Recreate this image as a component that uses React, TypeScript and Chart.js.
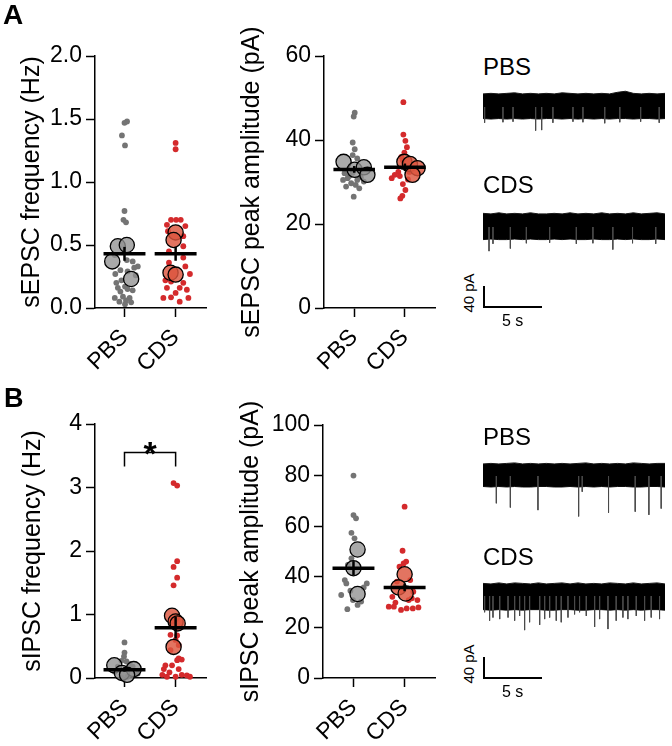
import React, { useEffect, useRef } from 'react';
import { Chart, registerables } from 'chart.js';
Chart.register(...registerables);

const FONT = "'Liberation Sans', Arial, Helvetica, sans-serif";
const groups = ['PBS', 'CDS'];

// ---------- A, left: sEPSC frequency (Hz) ----------
const aFreqPbs = [1.48, 1.47, 1.37, 1.29, 0.77, 0.70, 0.68, 0.42, 0.38, 0.37, 0.33, 0.32, 0.30, 0.29, 0.27, 0.26, 0.22, 0.20, 0.17, 0.16, 0.15, 0.14, 0.13, 0.09, 0.08, 0.08, 0.06, 0.05, 0.045, 0.03];
const aFreqPbsJit = [0.05, 0.0, -0.05, 0.01, 0.0, -0.02, 0.03, -0.19, 0.045, 0.16, 0.26, 0.19, -0.08, 0.06, -0.18, 0.22, -0.06, -0.16, 0.01, -0.13, 0.06, 0.16, -0.08, -0.03, -0.19, 0.10, 0.03, -0.10, 0.13, 0.01];
const aFreqPbsAnimals = [0.49, 0.50, 0.37, 0.23];
const aFreqPbsAnimalsJit = [-0.13, 0.045, -0.24, 0.13];
const aFreqCds = [1.31, 1.26, 0.70, 0.70, 0.70, 0.66, 0.65, 0.61, 0.57, 0.49, 0.45, 0.40, 0.36, 0.33, 0.27, 0.22, 0.21, 0.20, 0.16, 0.16, 0.145, 0.12, 0.08, 0.085, 0.08, 0.05];
const aFreqCdsJit = [0, 0, -0.09, 0.01, 0.10, -0.17, 0.19, -0.15, 0.15, 0.15, -0.13, 0.15, -0.13, 0.19, 0.28, -0.20, -0.09, 0.15, 0.08, -0.17, 0.22, 0, -0.24, -0.09, 0.25, 0.08];
const aFreqCdsAnimals = [0.60, 0.54, 0.28, 0.265];
const aFreqCdsAnimalsJit = [0, -0.04, -0.10, 0.0];
const aFreqMean = [0.43, 0.43];
const aFreqSem = [0.055, 0.055];

// ---------- A, middle: sEPSC peak amplitude (pA) ----------
const aAmpPbs = [46.5, 45.6, 39.4, 37.8, 36.4, 35.6, 32.2, 32.1, 31.4, 31.1, 30.9, 30.5, 30.5, 30.1, 29.7, 29.3, 28.9, 28.5, 26.5];
const aAmpPbsJit = [0.01, -0.01, -0.03, 0.01, -0.03, 0.06, -0.03, -0.19, -0.10, 0.13, -0.13, 0.06, -0.22, 0.19, -0.06, 0.03, -0.16, 0.10, -0.01];
const aAmpPbsAnimals = [34.8, 32.9, 33.5, 31.7];
const aAmpPbsAnimalsJit = [-0.21, 0.01, 0.19, 0.26];
const aAmpCds = [49.0, 41.3, 39.8, 38.3, 37.0, 36.0, 35.2, 32.4, 32.4, 31.7, 31.4, 30.9, 30.6, 29.5, 28.1, 26.7, 26.1];
const aAmpCdsJit = [-0.03, -0.03, 0.01, 0.04, -0.01, -0.07, -0.04, -0.13, 0.09, -0.20, -0.10, -0.26, 0.06, -0.04, 0.01, -0.05, -0.09];
const aAmpCdsAnimals = [34.8, 34.3, 33.3, 31.7];
const aAmpCdsAnimalsJit = [-0.01, 0.10, 0.25, 0.15];
const aAmpMean = [33.0, 33.5];
const aAmpSem = [0.8, 0.9];

// ---------- B, left: sIPSC frequency (Hz) ----------
const bFreqPbs = [0.56, 0.40, 0.34, 0.27, 0.26, 0.22, 0.18, 0.18, 0.10, 0.07, 0.02, 0.01];
const bFreqPbsJit = [0, 0, -0.01, -0.06, 0.04, 0.10, -0.13, 0.16, -0.19, 0.26, 0.06, -0.06];
const bFreqPbsAnimals = [0.20, 0.08, 0.14, 0.05];
const bFreqPbsAnimalsJit = [-0.20, -0.05, 0.18, 0.05];
const bFreqCds = [3.07, 3.03, 1.84, 1.75, 1.58, 1.46, 0.68, 0.67, 0.60, 0.52, 0.44, 0.31, 0.29, 0.28, 0.20, 0.20, 0.14, 0.14, 0.09, 0.05, 0.02, 0.05, 0.04, 0.02, 0.02];
const bFreqCdsJit = [-0.04, 0.03, 0.03, -0.04, 0.03, -0.04, -0.10, 0.03, 0, 0.06, -0.10, 0.06, 0.12, 0.03, -0.20, -0.07, -0.23, 0.06, -0.12, -0.26, 0, 0.12, 0.22, 0.28, -0.17];
const bFreqCdsAnimals = [0.98, 0.89, 0.86, 0.49];
const bFreqCdsAnimalsJit = [-0.07, 0.0, 0.04, -0.04];
const bFreqMean = [0.13, 0.79];
const bFreqSem = [0.03, 0.17];
const bFreqBracket = [3.33, 3.55];

// ---------- B, middle: sIPSC peak amplitude (pA) ----------
const bAmpPbs = [80.0, 64.4, 63.1, 57.4, 55.2, 47.3, 44.7, 38.7, 37.4, 37.4, 35.8, 34.5, 32.8, 30.8, 30.2, 28.9, 27.2];
const bAmpPbsJit = [0, 0, 0.05, -0.04, 0.02, -0.04, -0.11, -0.17, -0.14, 0.26, 0.20, -0.06, -0.24, -0.01, 0.15, 0.08, -0.12];
const bAmpPbsAnimals = [50.8, 43.4, 33.2];
const bAmpPbsAnimalsJit = [0.08, 0, 0.08];
const bAmpCds = [67.7, 50.3, 46.0, 45.3, 44.0, 38.7, 38.1, 34.1, 32.1, 31.5, 30.8, 30.8, 29.8, 28.2, 28.2, 27.9, 27.5, 27.5, 26.9];
const bAmpCdsJit = [0, -0.04, 0.03, -0.02, -0.10, 0.11, -0.15, 0.17, -0.24, 0.14, 0.25, 0.08, -0.18, -0.21, -0.31, 0.27, 0.04, 0.16, -0.07];
const bAmpCdsAnimals = [41.0, 35.8, 33.4];
const bAmpCdsAnimalsJit = [0, -0.12, 0.02];
const bAmpMean = [43.4, 35.8];
const bAmpSem = [2.8, 1.5];

// ---------- Example traces (pA relative to baseline, time in s) ----------
const TRACE_DUR = 15.7;
const SCALE_PA = 40;
const SCALE_S = 5;
const aPbsUpper = [25, 26, 25, 26, 27, 25, 26, 25, 26, 25, 27, 26, 25, 26, 25, 26, 25, 28, 30, 26, 25, 26, 25, 26];
const aPbsLower = [-22, -23, -22, -23, -22, -23, -22, -23, -22, -22, -23, -22, -23, -22, -23, -22, -23, -22, -22, -23, -22, -22, -23, -22];
const aPbsSpikeT = [0.14, 1.72, 2.59, 4.54, 5.06, 6.03, 7.76, 8.62, 10.5, 11.8, 13.6, 15.2];
const aPbsSpikeA = [-30, -29, -28, -45, -44, -30, -28, -29, -31, -29, -28, -30];
const aCdsUpper = [26, 25, 27, 25, 26, 25, 27, 25, 25, 26, 25, 27, 25, 26, 25, 27, 25, 26, 25, 27, 25, 26, 27, 25];
const aCdsLower = [-24, -23, -24, -24, -23, -24, -23, -24, -24, -23, -24, -23, -24, -24, -23, -24, -24, -23, -24, -23, -24, -24, -23, -24];
const aCdsSpikeT = [0.52, 0.86, 2.36, 3.74, 5.75, 8.05, 9.48, 11.2, 12.9, 14.9];
const aCdsSpikeA = [-46, -32, -41, -31, -30, -32, -31, -43, -31, -32];
const bPbsUpper = [23, 24, 23, 24, 25, 23, 24, 23, 24, 23, 24, 23, 24, 25, 23, 24, 23, 24, 23, 25, 24, 23, 24, 24];
const bPbsLower = [-20, -21, -20, -21, -20, -21, -21, -20, -20, -21, -21, -20, -21, -20, -21, -20, -21, -20, -20, -21, -21, -20, -20, -21];
const bPbsSpikeT = [1.15, 2.36, 4.74, 8.25, 8.56, 10.83, 13.13, 14.31, 15.37];
const bPbsSpikeA = [-52, -60, -65, -77, -30, -70, -68, -74, -62];
const bCdsUpper = [24, 23, 25, 23, 25, 24, 23, 25, 23, 24, 25, 23, 25, 23, 24, 23, 25, 24, 23, 25, 23, 24, 25, 23];
const bCdsLower = [-26, -27, -26, -27, -26, -27, -26, -26, -27, -27, -26, -26, -27, -27, -26, -26, -27, -26, -27, -26, -27, -26, -26, -27];
const bCdsSpikeT = [0.14, 0.57, 0.86, 1.44, 2.16, 2.73, 3.16, 3.59, 4.02, 4.89, 5.32, 5.75, 6.32, 6.75, 7.33, 7.90, 8.33, 8.91, 9.63, 10.06, 10.78, 11.49, 12.07, 12.50, 13.22, 13.94, 14.51, 15.23];
const bCdsSpikeA = [-31, -47, -41, -44, -41, -47, -38, -65, -50, -55, -44, -41, -47, -50, -41, -35, -31, -38, -59, -44, -63, -47, -41, -44, -38, -47, -41, -44];

// ---------- styles ----------
const GREY_DOT = '#747474';
const RED_DOT = '#d42a2c';
const GREY_BIG = 'rgba(145,145,145,0.78)';
const RED_BIG = 'rgba(220,85,62,0.82)';
const PX_PER_S = 11.6;
const PX_PER_PA = 0.525;

type DotPanel = {
  left: number; top: number; width: number; height: number;
  area: { l: number; t: number; r: number; b: number };
  pbsPx: number; cdsPx: number;
  yMax: number; yStep: number; dec: number;
  title: string; titleCenter: number;
  pbs: number[]; pbsJit: number[]; pbsBig: number[]; pbsBigJit: number[];
  cds: number[]; cdsJit: number[]; cdsBig: number[]; cdsBigJit: number[];
  mean: number[]; sem: number[];
  bracket?: number[];
};

const starPlugin = {
  id: 'star',
  afterDatasetsDraw(chart: any, _args: any, opts: any) {
    if (!opts || !opts.text) return;
    const { ctx, scales } = chart;
    ctx.save();
    ctx.font = `bold ${opts.size}px ${FONT}`;
    ctx.textAlign = 'center';
    ctx.textBaseline = 'alphabetic';
    ctx.fillStyle = '#000';
    ctx.fillText(opts.text, scales.x.getPixelForValue(opts.x), scales.y.getPixelForValue(opts.y) + opts.dy);
    ctx.restore();
  },
};

function dotConfig(p: DotPanel): any {
  const unit = p.cdsPx - p.pbsPx;
  const xMin = 1 - (p.pbsPx - p.area.l) / unit;
  const xMax = 1 + (p.area.r - p.pbsPx) / unit;
  const pts = (vals: number[], jit: number[], g: number) => vals.map((v, i) => ({ x: g + jit[i], y: v }));
  const small = (data: any[], color: string) => ({
    type: 'scatter', data, pointRadius: 2.9, pointBackgroundColor: color, pointBorderWidth: 0,
    pointHoverRadius: 2.9, order: 4, clip: false,
  });
  const big = (data: any[], color: string) => ({
    type: 'scatter', data, pointRadius: 7.6, pointBackgroundColor: color, pointBorderColor: '#000',
    pointBorderWidth: 1.3, pointHoverRadius: 7.6, order: 3, clip: false,
  });
  const seg = (data: any[], w: number) => ({
    type: 'scatter', data, showLine: true, borderColor: '#000', borderWidth: w, pointRadius: 0,
    pointHoverRadius: 0, order: 1, clip: false, borderCapStyle: 'butt',
  });
  const datasets: any[] = [
    small(pts(p.pbs, p.pbsJit, 1), GREY_DOT),
    small(pts(p.cds, p.cdsJit, 2), RED_DOT),
    big(pts(p.pbsBig, p.pbsBigJit, 1), GREY_BIG),
    big(pts(p.cdsBig, p.cdsBigJit, 2), RED_BIG),
  ];
  [0, 1].forEach((i) => {
    const g = i + 1;
    datasets.push(seg([{ x: g - 0.41, y: p.mean[i] }, { x: g + 0.41, y: p.mean[i] }], 3.5));
    datasets.push(seg([{ x: g, y: p.mean[i] - p.sem[i] }, { x: g, y: p.mean[i] + p.sem[i] }], 2.5));
  });
  if (p.bracket) {
    const [lo, hi] = p.bracket;
    datasets.push(seg([{ x: 1, y: lo }, { x: 1, y: hi }, { x: 2, y: hi }, { x: 2, y: lo }], 1.5));
  }
  const tickFont = { family: FONT, size: 23 };
  return {
    type: 'scatter',
    data: { datasets },
    plugins: [starPlugin],
    options: {
      animation: false,
      responsive: false,
      maintainAspectRatio: false,
      events: [],
      layout: { padding: { top: p.area.t, right: p.width - p.area.r, left: 0, bottom: 0 } },
      plugins: {
        legend: { display: false },
        tooltip: { enabled: false },
        star: p.bracket ? { text: '*', x: 1.5, y: p.bracket[1], dy: 12, size: 34 } : {},
      },
      scales: {
        x: {
          type: 'linear', min: xMin, max: xMax,
          afterBuildTicks: (s: any) => { s.ticks = [{ value: 1 }, { value: 2 }]; },
          afterFit: (s: any) => { s.height = p.height - p.area.b; },
          ticks: { callback: (v: number) => groups[Math.round(v) - 1], minRotation: 45, maxRotation: 45, font: tickFont, color: '#000', padding: 7, autoSkip: false },
          grid: { drawOnChartArea: false, drawTicks: true, tickLength: 9, tickWidth: 1.5, tickColor: '#000' },
          border: { display: true, color: '#000', width: 1.5 },
        },
        y: {
          type: 'linear', min: 0, max: p.yMax,
          afterFit: (s: any) => { s.width = p.area.l; },
          ticks: { stepSize: p.yStep, callback: (v: number) => v.toFixed(p.dec), font: tickFont, color: '#000', padding: 4 },
          grid: { drawOnChartArea: false, drawTicks: true, tickLength: 9, tickWidth: 1.5, tickColor: '#000' },
          border: { display: true, color: '#000', width: 1.5 },
          title: { display: true, text: p.title, font: { family: FONT, size: 25 }, color: '#000', padding: { top: p.titleCenter - 15, bottom: 0 } },
        },
      },
    },
  };
}

function ChartBox({ left, top, width, height, config }: { left: number; top: number; width: number; height: number; config: any }) {
  const ref = useRef<HTMLCanvasElement>(null);
  useEffect(() => {
    if (!ref.current) return;
    const chart = new Chart(ref.current, config);
    return () => chart.destroy();
  }, []);
  return (
    <canvas
      ref={ref}
      width={width}
      height={height}
      style={{ position: 'absolute', left, top, width, height, display: 'block' }}
    />
  );
}

function traceConfig(upper: number[], lower: number[], spikeT: number[], spikeA: number[], above: number, below: number): any {
  const env = (arr: number[]) => arr.map((v, i) => ({ x: (i * TRACE_DUR) / (arr.length - 1), y: v }));
  const spikes: any[] = [];
  spikeT.forEach((t, i) => {
    spikes.push({ x: t, y: 0 }, { x: t, y: spikeA[i] }, { x: t, y: null });
  });
  return {
    type: 'scatter',
    data: {
      datasets: [
        { type: 'scatter', data: env(upper), showLine: true, fill: '+1', backgroundColor: '#000', borderColor: '#1a1a1a', borderWidth: 1, pointRadius: 0, order: 2 },
        { type: 'scatter', data: env(lower), showLine: true, borderColor: '#1a1a1a', borderWidth: 1, pointRadius: 0, order: 2 },
        { type: 'scatter', data: spikes, showLine: true, spanGaps: false, borderColor: '#4a4a4a', borderWidth: 1, pointRadius: 0, order: 1 },
      ],
    },
    options: {
      animation: false, responsive: false, maintainAspectRatio: false, events: [],
      layout: { padding: 0 },
      plugins: { legend: { display: false }, tooltip: { enabled: false } },
      scales: {
        x: { type: 'linear', display: false, min: 0, max: TRACE_DUR },
        y: { type: 'linear', display: false, min: -below / PX_PER_PA, max: above / PX_PER_PA },
      },
    },
  };
}

function Trace({ centerY, upper, lower, spikeT, spikeA }: any) {
  const above = 20, below = 50;
  return (
    <ChartBox left={483} top={centerY - above} width={Math.round(TRACE_DUR * PX_PER_S)} height={above + below}
      config={traceConfig(upper, lower, spikeT, spikeA, above, below)} />
  );
}

function ScaleBar({ cx, cy }: { cx: number; cy: number }) {
  const padL = 4, w = 72, above = 26, h = 32;
  const config = {
    type: 'scatter',
    data: {
      datasets: [{
        type: 'scatter', showLine: true, borderColor: '#000', borderWidth: 2, pointRadius: 0,
        borderCapStyle: 'butt', borderJoinStyle: 'miter',
        data: [{ x: 0, y: SCALE_PA }, { x: 0, y: 0 }, { x: SCALE_S, y: 0 }],
      }],
    },
    options: {
      animation: false, responsive: false, maintainAspectRatio: false, events: [],
      layout: { padding: 0 },
      plugins: { legend: { display: false }, tooltip: { enabled: false } },
      scales: {
        x: { type: 'linear', display: false, min: -padL / PX_PER_S, max: (w - padL) / PX_PER_S },
        y: { type: 'linear', display: false, min: -(h - above) / PX_PER_PA, max: above / PX_PER_PA },
      },
    },
  };
  return (
    <>
      <ChartBox left={cx - padL} top={cy - above} width={w} height={h} config={config} />
      <div style={{ position: 'absolute', left: cx - 16, top: cy - 14, transform: 'translate(-50%,-50%) rotate(-90deg)', fontSize: 15, lineHeight: '15px', fontFamily: FONT, whiteSpace: 'nowrap', color: '#000' }}>
        {`${SCALE_PA} pA`}
      </div>
      <Txt x={cx + 18} baseline={cy + 20} size={16}>{`${SCALE_S} s`}</Txt>
    </>
  );
}

function Txt({ x, baseline, size, bold, children }: any) {
  return (
    <div style={{ position: 'absolute', left: x, top: baseline - 0.8465 * size, fontSize: size, lineHeight: `${size}px`, fontWeight: bold ? 'bold' : 'normal', whiteSpace: 'nowrap', fontFamily: FONT, color: '#000' }}>
      {children}
    </div>
  );
}

const panelA1: DotPanel = {
  left: 0, top: 0, width: 215, height: 390, area: { l: 95, t: 56, r: 208, b: 308 }, pbsPx: 125, cdsPx: 177,
  yMax: 2, yStep: 0.5, dec: 1, title: 'sEPSC frequency (Hz)', titleCenter: 32,
  pbs: aFreqPbs, pbsJit: aFreqPbsJit, pbsBig: aFreqPbsAnimals, pbsBigJit: aFreqPbsAnimalsJit,
  cds: aFreqCds, cdsJit: aFreqCdsJit, cdsBig: aFreqCdsAnimals, cdsBigJit: aFreqCdsAnimalsJit,
  mean: aFreqMean, sem: aFreqSem,
};
const panelA2: DotPanel = {
  left: 222, top: 0, width: 222, height: 390, area: { l: 102, t: 56, r: 216, b: 308 }, pbsPx: 133, cdsPx: 185,
  yMax: 60, yStep: 20, dec: 0, title: 'sEPSC peak amplitude (pA)', titleCenter: 30,
  pbs: aAmpPbs, pbsJit: aAmpPbsJit, pbsBig: aAmpPbsAnimals, pbsBigJit: aAmpPbsAnimalsJit,
  cds: aAmpCds, cdsJit: aAmpCdsJit, cdsBig: aAmpCdsAnimals, cdsBigJit: aAmpCdsAnimalsJit,
  mean: aAmpMean, sem: aAmpSem,
};
const panelB1: DotPanel = {
  left: 0, top: 370, width: 215, height: 376, area: { l: 95, t: 54, r: 208, b: 308 }, pbsPx: 125, cdsPx: 177,
  yMax: 4, yStep: 1, dec: 0, title: 'sIPSC frequency (Hz)', titleCenter: 33,
  pbs: bFreqPbs, pbsJit: bFreqPbsJit, pbsBig: bFreqPbsAnimals, pbsBigJit: bFreqPbsAnimalsJit,
  cds: bFreqCds, cdsJit: bFreqCdsJit, cdsBig: bFreqCdsAnimals, cdsBigJit: bFreqCdsAnimalsJit,
  mean: bFreqMean, sem: bFreqSem, bracket: bFreqBracket,
};
const panelB2: DotPanel = {
  left: 222, top: 370, width: 222, height: 376, area: { l: 101, t: 55, r: 215, b: 308 }, pbsPx: 132, cdsPx: 184,
  yMax: 100, yStep: 20, dec: 0, title: 'sIPSC peak amplitude (pA)', titleCenter: 29,
  pbs: bAmpPbs, pbsJit: bAmpPbsJit, pbsBig: bAmpPbsAnimals, pbsBigJit: bAmpPbsAnimalsJit,
  cds: bAmpCds, cdsJit: bAmpCdsJit, cdsBig: bAmpCdsAnimals, cdsBigJit: bAmpCdsAnimalsJit,
  mean: bAmpMean, sem: bAmpSem,
};

function DotPlot({ p }: { p: DotPanel }) {
  return <ChartBox left={p.left} top={p.top} width={p.width} height={p.height} config={dotConfig(p)} />;
}

export default function App() {
  return (
    <div style={{ position: 'absolute', left: 0, top: 0, width: 672, height: 746, background: '#fff', overflow: 'hidden', fontFamily: FONT }}>
      <DotPlot p={panelA1} />
      <DotPlot p={panelA2} />
      <DotPlot p={panelB1} />
      <DotPlot p={panelB2} />

      <Trace centerY={106.5} upper={aPbsUpper} lower={aPbsLower} spikeT={aPbsSpikeT} spikeA={aPbsSpikeA} />
      <Trace centerY={226.5} upper={aCdsUpper} lower={aCdsLower} spikeT={aCdsSpikeT} spikeA={aCdsSpikeA} />
      <Trace centerY={476} upper={bPbsUpper} lower={bPbsLower} spikeT={bPbsSpikeT} spikeA={bPbsSpikeA} />
      <Trace centerY={596} upper={bCdsUpper} lower={bCdsLower} spikeT={bCdsSpikeT} spikeA={bCdsSpikeA} />
      <ScaleBar cx={484} cy={307} />
      <ScaleBar cx={484} cy={678} />

      <Txt x={3} baseline={25} size={28} bold>A</Txt>
      <Txt x={4} baseline={408} size={27} bold>B</Txt>
      <Txt x={483} baseline={75} size={24}>{groups[0]}</Txt>
      <Txt x={483} baseline={193} size={24}>{groups[1]}</Txt>
      <Txt x={483} baseline={445} size={24}>{groups[0]}</Txt>
      <Txt x={483} baseline={565} size={24}>{groups[1]}</Txt>
    </div>
  );
}
